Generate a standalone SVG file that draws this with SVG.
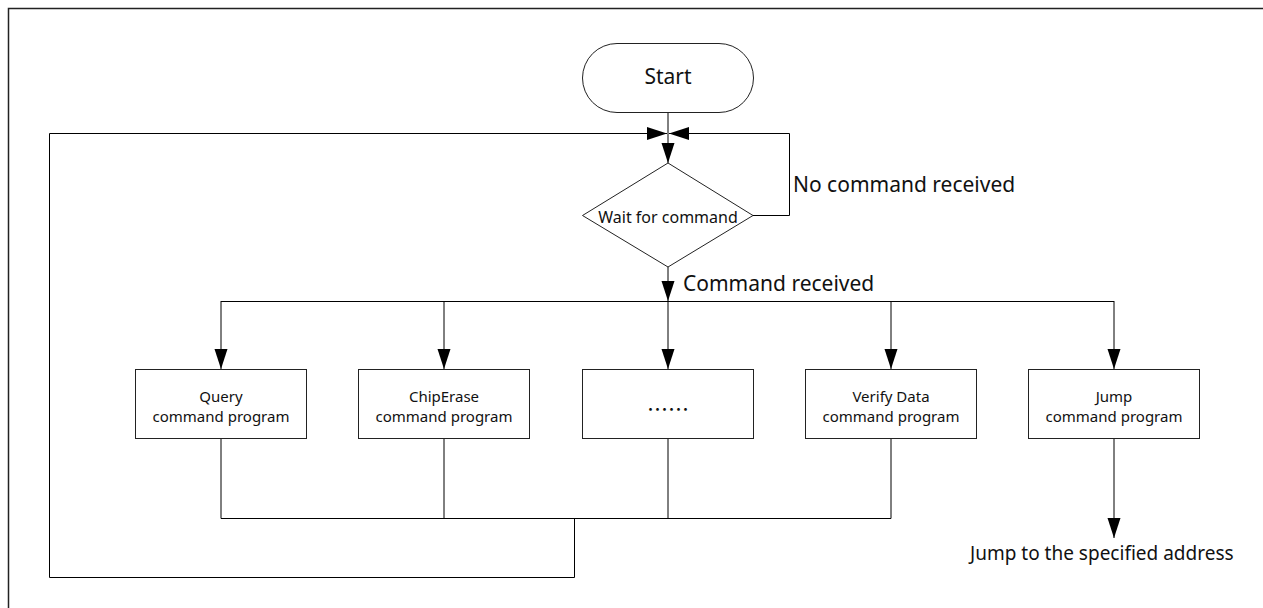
<svg xmlns="http://www.w3.org/2000/svg" width="1263" height="608" viewBox="0 0 1263 608">
<defs>
<marker id="arr" markerUnits="userSpaceOnUse" markerWidth="20" markerHeight="14" refX="20" refY="7" orient="auto">
<path d="M0,0.5 L20,7 L0,13.5 Z" fill="#000"/>
</marker>
<style>
.shape{fill:#fff;stroke:#222;stroke-width:1}
.ln{fill:none;stroke:#000;stroke-width:1}
.t{font-family:"Noto Sans","Liberation Sans",sans-serif;fill:#111}
.big{font-size:21px}
.mid{font-size:16px}
.box{font-size:15px}
</style>
</defs>
<rect width="1263" height="608" fill="#fff"/>
<path d="M8.5,608 V8.5 H1263" fill="none" stroke="#222" stroke-width="1.5"/>
<g id="connectors">
<path class="ln" d="M668,112 V163" marker-end="url(#arr)"/>
<path class="ln" d="M574.5,518.5 V577.5 H49.5 V133.5 H667" marker-end="url(#arr)"/>
<path class="ln" d="M753,215.5 H789.5 V133.5 H669" marker-end="url(#arr)"/>
<path class="ln" d="M668,267 V301" marker-end="url(#arr)"/>
<path class="ln" d="M221,301.5 H1114"/>
<path class="ln" d="M221,301 V369" marker-end="url(#arr)"/>
<path class="ln" d="M444,301 V369" marker-end="url(#arr)"/>
<path class="ln" d="M668,301 V369" marker-end="url(#arr)"/>
<path class="ln" d="M891,301 V369" marker-end="url(#arr)"/>
<path class="ln" d="M1114,301 V369" marker-end="url(#arr)"/>
<path class="ln" d="M221,438 V518.5 H891 V438"/>
<path class="ln" d="M444,438 V518.5"/>
<path class="ln" d="M668,438 V518.5"/>
<path class="ln" d="M1114,438 V538" marker-end="url(#arr)"/>
</g>
<g id="start">
<rect class="shape" x="582.5" y="43.5" width="171" height="69" rx="34.5"/>
<text class="t big" x="668" y="84" text-anchor="middle">Start</text>
</g>
<g id="wait">
<path class="shape" d="M668,163 L753,215.5 L668,267 L582.5,215.5 Z"/>
<text class="t mid" x="668" y="223" text-anchor="middle">Wait for command</text>
</g>
<g id="label-no">
<text class="t big" x="793" y="192">No command received</text>
</g>
<g id="label-yes">
<text class="t big" x="683" y="291">Command received</text>
</g>
<g id="query">
<rect class="shape" x="135.5" y="369.5" width="171" height="69"/>
<text class="t box" x="221" y="402" text-anchor="middle">Query</text>
<text class="t box" x="221" y="422" text-anchor="middle">command program</text>
</g>
<g id="chiperase">
<rect class="shape" x="358.5" y="369.5" width="171" height="69"/>
<text class="t box" x="444" y="402" text-anchor="middle">ChipErase</text>
<text class="t box" x="444" y="422" text-anchor="middle">command program</text>
</g>
<g id="more">
<rect class="shape" x="582.5" y="369.5" width="171" height="69"/>
<text x="668" y="417" text-anchor="middle" style="font-family:'Noto Sans CJK SC',sans-serif;font-size:21px;fill:#111">……</text>
</g>
<g id="verify">
<rect class="shape" x="805.5" y="369.5" width="171" height="69"/>
<text class="t box" x="891" y="402" text-anchor="middle">Verify Data</text>
<text class="t box" x="891" y="422" text-anchor="middle">command program</text>
</g>
<g id="jump">
<rect class="shape" x="1028.5" y="369.5" width="171" height="69"/>
<text class="t box" x="1114" y="402" text-anchor="middle">Jump</text>
<text class="t box" x="1114" y="422" text-anchor="middle">command program</text>
</g>
<g id="label-jump">
<text class="t" style="font-size:19px" x="970" y="560">Jump to the specified address</text>
</g>
</svg>
